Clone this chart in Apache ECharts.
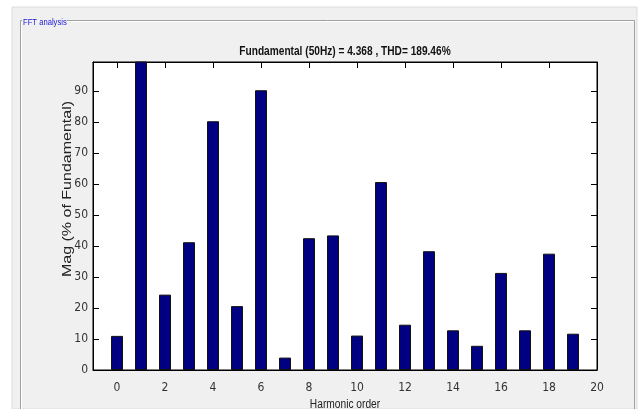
<!DOCTYPE html>
<html><head><meta charset="utf-8">
<script src="https://cdn.jsdelivr.net/npm/echarts@6/dist/echarts.min.js"></script>
<style>html,body{margin:0;padding:0;background:#fff}#c{width:640px;height:409px}</style>
</head><body><div id="c"></div>
<script>
const harmonicOrders = [0,1,2,3,4,5,6,7,8,9,10,11,12,13,14,15,16,17,18,19];
const magnitudes = [11.0, 100, 24.3, 41.2, 80.2, 20.6, 90.2, 4.0, 42.5, 43.4, 11.1, 60.6, 14.6, 38.3, 12.8, 7.8, 31.3, 12.8, 37.5, 11.7];
const xTicks = [0,2,4,6,8,10,12,14,16,18,20];
const yTicks = [0,10,20,30,40,50,60,70,80,90];
const titleText = 'Fundamental (50Hz) = 4.368 , THD= 189.46%';
const xName = 'Harmonic order';
const yName = 'Mag (% of Fundamental)';
const panelName = 'FFT analysis';

const NARROW = '"Liberation Sans Narrow", "DejaVu Sans Condensed", "Liberation Sans", sans-serif';
const NORMAL = '"Liberation Sans", Arial, sans-serif';

const chart = echarts.init(document.getElementById('c'), null, {renderer: 'canvas'});
const axisCommon = {
  axisLine: {show: true, onZero: false, lineStyle: {color: '#000', width: 1}},
  splitLine: {show: false}
};
chart.setOption({
  animation: false,
  backgroundColor: 'transparent',
  graphic: [
    {type: 'rect', z: -20, shape: {x: 12, y: 7, width: 625, height: 402}, style: {fill: '#f0f0f0', stroke: '#dcdcdc', lineWidth: 1}},
    {type: 'polyline', z: -15, shape: {points: [[20.5, 409], [20.5, 20.5], [634.5, 20.5], [634.5, 409]]}, style: {fill: null, stroke: '#a0a0a0', lineWidth: 1}},
    {type: 'polyline', z: -15, shape: {points: [[21.5, 409], [21.5, 21.5], [633.5, 21.5]]}, style: {fill: null, stroke: '#ffffff', lineWidth: 1}},
    {type: 'rect', z: -14, shape: {x: 22, y: 15, width: 45, height: 12}, style: {fill: '#f0f0f0'}},
    {type: 'text', z: -13, x: 23, y: 23, scaleX: 0.85, style: {text: panelName, font: '9px ' + NORMAL, fill: '#1a1ad0', verticalAlign: 'middle', align: 'left'}},
    {type: 'text', z: 10, x: 67, y: 189, rotation: Math.PI / 2, scaleY: 0.8, style: {text: yName, font: '16px ' + NORMAL, fill: '#222', align: 'center', verticalAlign: 'middle'}},
    {type: 'text', z: 10, x: 345, y: 51, scaleX: 0.78, style: {text: titleText, font: 'bold 13px ' + NORMAL, fill: '#111', align: 'center', verticalAlign: 'middle'}},
    {type: 'text', z: 10, x: 345, y: 405, scaleX: 0.85, style: {text: xName, font: '12px ' + NORMAL, fill: '#222', align: 'center', verticalAlign: 'middle'}}
  ],
  grid: {left: 93, top: 62, right: 43, bottom: 39, show: true, backgroundColor: '#fff', borderColor: '#000', borderWidth: 1},
  xAxis: [
    Object.assign({}, axisCommon, {
      type: 'value', min: -1, max: 20, position: 'bottom',
      axisTick: {show: true, inside: true, length: 6, customValues: xTicks, lineStyle: {color: '#000'}},
      axisLabel: {customValues: xTicks, margin: 12, fontFamily: NARROW, fontSize: 12, color: '#333'}
    }),
    Object.assign({}, axisCommon, {
      type: 'value', min: -1, max: 20, position: 'top',
      axisTick: {show: true, inside: true, length: 6, customValues: xTicks, lineStyle: {color: '#000'}},
      axisLabel: {show: false}
    })
  ],
  yAxis: [
    Object.assign({}, axisCommon, {
      type: 'value', min: 0, max: 99.3, position: 'left',
      axisTick: {show: true, inside: true, length: 6, customValues: yTicks, lineStyle: {color: '#000'}},
      axisLabel: {customValues: yTicks, margin: 5, fontFamily: NARROW, fontSize: 12, color: '#333'}
    }),
    Object.assign({}, axisCommon, {
      type: 'value', min: 0, max: 99.3, position: 'right',
      axisTick: {show: true, inside: true, length: 6, customValues: yTicks, lineStyle: {color: '#000'}},
      axisLabel: {show: false}
    })
  ],
  series: [{
    type: 'bar', xAxisIndex: 0, yAxisIndex: 0,
    data: harmonicOrders.map((h, i) => [h, magnitudes[i]]),
    barWidth: 12, clip: true,
    itemStyle: {color: '#000080', borderColor: '#111', borderWidth: 1}
  }]
});
</script>
</body></html>
